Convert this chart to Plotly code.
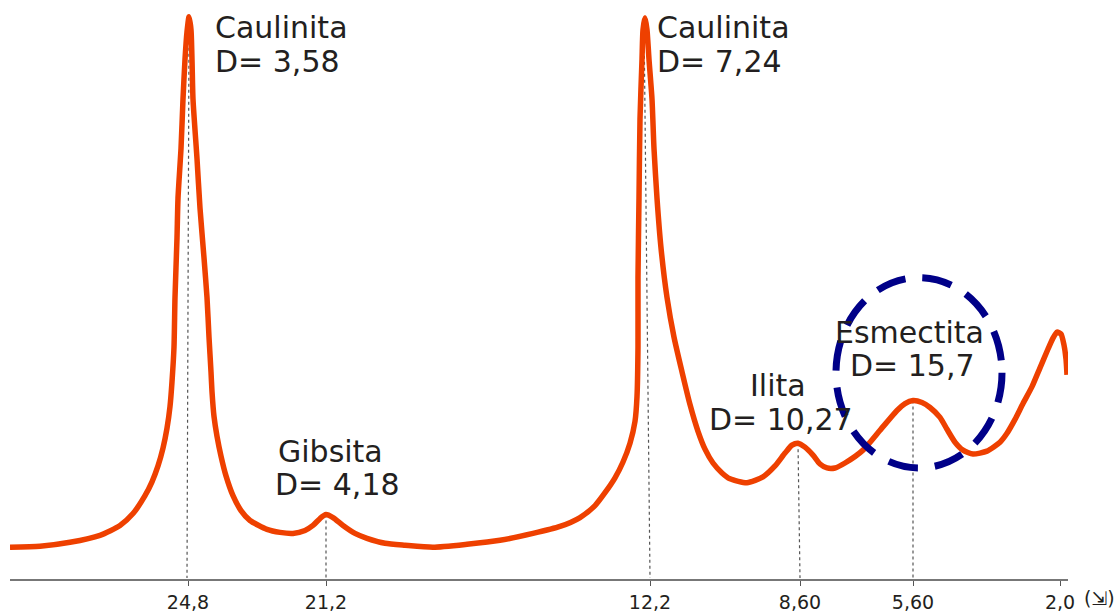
import plotly.graph_objects as go

# Difractograma esquemático (posición a lo largo del barrido vs. intensidad relativa)
scan_pos = [
    0, 30, 60, 90, 110, 123, 135, 142, 148, 153, 157, 160, 162, 164, 165, 167, 168, 171, 173, 175, 177, 179,
    181, 182, 183, 187, 190, 194, 197, 199, 201, 202, 204, 207, 211, 216, 223, 231, 240, 257, 270, 283,
    295, 303, 310, 316, 323, 333, 345, 357, 375, 395, 423, 457, 490, 523, 550, 570, 585, 595, 605, 613,
    620, 625, 627, 628, 628, 629, 630, 632, 633, 635, 637, 639, 642, 644, 647, 651, 657, 664, 672, 680,
    688, 695, 703, 712, 720, 737, 753, 765, 775, 782, 788, 795, 803, 810, 817, 825, 835, 853, 870, 887,
    895, 903, 912, 920, 930, 937, 945, 953, 963, 977, 990, 997, 1005, 1013, 1022, 1030, 1038, 1043, 1047,
    1051, 1054, 1056, 1057,
]
intensity = [
    31, 32, 36, 43, 53, 65, 83, 97, 113, 131, 151, 173, 198, 233, 283, 343, 383, 433, 483, 523, 551, 566,
    553, 523, 483, 423, 373, 323, 283, 243, 208, 188, 163, 143, 123, 103, 83, 68, 58, 49, 46, 45,
    48, 53, 60, 64, 61, 53, 45, 40, 35, 33, 31, 34, 38, 45, 52, 61, 73, 86, 101, 117,
    136, 158, 183, 233, 303, 383, 463, 523, 553, 565, 553, 523, 483, 433, 383, 333, 283, 243, 208, 175,
    148, 130, 116, 106, 100, 96, 102, 113, 126, 134, 136, 132, 124, 115, 111, 111, 116, 129, 149, 169,
    176, 179, 177, 172, 162, 150, 137, 129, 125, 128, 137, 146, 160, 176, 193, 212, 231, 242, 248,
    246, 235, 221, 205,
]

# Eje 2θ (grados)
tick_pos = [178, 316, 640, 790, 903, 1050]
tick_text = ["24,8", "21,2", "12,2", "8,60", "5,60", "2,0"]

# Picos identificados: (posición del pico, intensidad del pico, posición en el eje)
peak_pos = [179, 316, 634, 788, 903]
peak_int = [553, 64, 563, 136, 179]
peak_axis = [177, 316, 640, 790, 903]

# Etiquetas de minerales: nombre, espaciado, posición, alineación
mineral_names = ["Caulinita", "Caulinita", "Gibsita", "Ilita", "Esmectita"]
d_spacings = ["D= 3,58", "D= 7,24", "D= 4,18", "D= 10,27", "D= 15,7"]
name_pos = [(203, 555), (645, 555), (320, 128), (768, 194), (899, 248)]
d_pos = [(203, 521), (645, 521), (327, 94), (771, 160), (902, 214)]
label_align = ["left", "left", "center", "center", "center"]

# Zona destacada (esmectita)
ring_x = (826, 992)
ring_y = (111, 303)

CURVE = "#EE4000"
TEXT = "#231F20"
FONT = "DejaVu Sans"

fig = go.Figure()
fig.add_trace(go.Scatter(
    x=scan_pos, y=intensity, mode="lines",
    line=dict(color=CURVE, width=5.5, shape="spline", smoothing=0.6),
    hoverinfo="skip", showlegend=False,
))

shapes = []
for xp, yp, xa in zip(peak_pos, peak_int, peak_axis):
    shapes.append(dict(type="line", xref="x", yref="y", x0=xp, y0=yp, x1=xa, y1=0,
                       line=dict(color="#555555", width=1.2, dash="dot"), layer="below"))
shapes.append(dict(type="circle", xref="x", yref="y",
                   x0=ring_x[0], x1=ring_x[1], y0=ring_y[0], y1=ring_y[1],
                   line=dict(color="#000088", width=7, dash="30px,17px"), layer="above"))

annotations = []
for name, d, (nx, ny), (dx, dy), al in zip(mineral_names, d_spacings, name_pos, d_pos, label_align):
    annotations.append(dict(x=nx, y=ny, xref="x", yref="y", text=name, showarrow=False,
                            xanchor=al, yanchor="middle",
                            font=dict(family=FONT, size=30, color=TEXT)))
    annotations.append(dict(x=dx, y=dy, xref="x", yref="y", text=d, showarrow=False,
                            xanchor=al, yanchor="middle",
                            font=dict(family=FONT, size=30, color=TEXT)))
annotations.append(dict(x=1.0302, y=-0.033, xref="paper", yref="paper", text="(⇲)",
                        showarrow=False, xanchor="center", yanchor="middle",
                        font=dict(family=FONT, size=19, color=TEXT)))

fig.update_layout(
    width=1117, height=613,
    margin=dict(l=10, r=49, t=0, b=29),
    paper_bgcolor="white", plot_bgcolor="white",
    shapes=shapes, annotations=annotations,
    xaxis=dict(range=[0, 1058], showgrid=False, zeroline=False,
               showline=True, linecolor="#777777", linewidth=1.5,
               tickmode="array", tickvals=tick_pos, ticktext=tick_text,
               ticks="outside", ticklen=5, tickcolor="#555555", tickwidth=1,
               tickfont=dict(family=FONT, size=19, color=TEXT)),
    yaxis=dict(range=[-1, 583], visible=False),
)

fig.write_html("out.html")
